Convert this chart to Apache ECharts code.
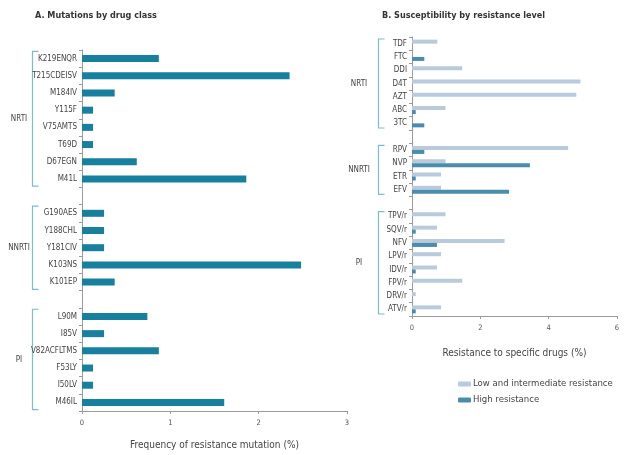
<!DOCTYPE html>
<html><head><meta charset="utf-8">
<script src="https://cdn.jsdelivr.net/npm/echarts@6/dist/echarts.min.js"></script>
<style>html,body{margin:0;padding:0;background:#fff}#c{width:628px;height:455px}</style>
</head><body><div id="c"></div>
<script>
// ---- Data ----
const leftCats = ['K219ENQR','T215CDEISV','M184IV','Y115F','V75AMTS','T69D','D67EGN','M41L',' ','G190AES','Y188CHL','Y181CIV','K103NS','K101EP','  ','L90M','I85V','V82ACFLTMS','F53LY','I50LV','M46IL'];
const leftVals = [0.87,2.35,0.37,0.125,0.125,0.125,0.62,1.86,null,0.25,0.25,0.25,2.48,0.37,null,0.74,0.25,0.87,0.125,0.125,1.61];
const leftGroups = [['NRTI',0,7],['NNRTI',9,13],['PI',15,20]];
const leftTicks = [0,1,2,3];

const rightCats = ['TDF','FTC','DDI','D4T','AZT','ABC','3TC',' ','RPV','NVP','ETR','EFV','  ','TPV/r','SQV/r','NFV','LPV/r','IDV/r','FPV/r','DRV/r','ATV/r'];
const lowVals  = [0.74,0,1.47,4.93,4.81,0.98,0,null,4.57,0.98,0.85,0.85,null,0.98,0.73,2.71,0.85,0.73,1.47,0.11,0.85];
const highVals = [0,0.36,0,0,0,0.11,0.36,null,0.36,3.45,0.11,2.84,null,0,0.11,0.73,0,0.11,0,0,0.11];
const rightGroups = [['NRTI',0,6],['NNRTI',8,11],['PI',13,20]];
const rightTicks = [0,2,4,6];

const FONT = '"DejaVu Sans Condensed","Liberation Sans",sans-serif';
const chart = echarts.init(document.getElementById('c'));
const axisLine = {lineStyle:{color:'#9a9a9a',width:1}};
const option = {
  animation:false,
  textStyle:{fontFamily:FONT},
  title:[
    {text:'A. Mutations by drug class',left:35,top:11,padding:0,textStyle:{fontFamily:FONT,fontSize:9,fontWeight:'bold',color:'#333'}},
    {text:'B. Susceptibility by resistance level',left:382,top:11,padding:0,textStyle:{fontFamily:FONT,fontSize:9,fontWeight:'bold',color:'#333'}}
  ],
  legend:{orient:'vertical',left:453,top:374,itemWidth:13,itemHeight:5,itemGap:6,
    textStyle:{fontFamily:FONT,fontSize:9.5,color:'#444',padding:[0,0,0,-3]},
    data:['Low and intermediate resistance','High resistance']},
  grid:[
    {left:82,top:50,width:265,height:363},
    {left:412,top:37,width:205,height:279}
  ],
  xAxis:[
    {gridIndex:0,type:'value',min:leftTicks[0],max:leftTicks[leftTicks.length-1],interval:1,
     name:'Frequency of resistance mutation (%)',nameLocation:'middle',nameGap:29,
     nameTextStyle:{fontFamily:FONT,fontSize:10,color:'#444'},
     axisLine:{show:true,...axisLine},axisTick:{show:true,length:3,lineStyle:{color:'#9a9a9a'}},
     axisLabel:{fontSize:7.5,color:'#555',margin:8},splitLine:{show:false}},
    {gridIndex:1,type:'value',min:rightTicks[0],max:rightTicks[rightTicks.length-1],interval:2,
     name:'Resistance to specific drugs (%)',nameLocation:'middle',nameGap:32,
     nameTextStyle:{fontFamily:FONT,fontSize:10,color:'#444'},
     axisLine:{show:true,...axisLine},axisTick:{show:true,length:3,lineStyle:{color:'#9a9a9a'}},
     axisLabel:{fontSize:7.5,color:'#555',margin:8},splitLine:{show:false}}
  ],
  yAxis:[
    {gridIndex:0,type:'category',data:leftCats,inverse:true,
     axisLine:axisLine,axisTick:{show:true,length:3,lineStyle:{color:'#9a9a9a'}},
     axisLabel:{fontSize:8,color:'#444',margin:5}},
    {gridIndex:1,type:'category',data:rightCats,inverse:true,
     axisLine:axisLine,axisTick:{show:true,length:3,lineStyle:{color:'#9a9a9a'}},
     axisLabel:{fontSize:8,color:'#444',margin:5}}
  ],
  series:[
    {type:'bar',xAxisIndex:0,yAxisIndex:0,data:leftVals,barWidth:7,itemStyle:{color:'#18809f'}},
    {name:'Low and intermediate resistance',type:'bar',xAxisIndex:1,yAxisIndex:1,data:lowVals,barWidth:4,barGap:'0%',itemStyle:{color:'#b8cadb'}},
    {name:'High resistance',type:'bar',xAxisIndex:1,yAxisIndex:1,data:highVals,barWidth:4,barGap:'0%',itemStyle:{color:'#4a8cab'}}
  ]
};
chart.setOption(option);

function brackets(groups, axisIdx, xLine, xLabel, frac){
  const els = [];
  const p0 = chart.convertToPixel({yAxisIndex:axisIdx}, 0);
  const p1 = chart.convertToPixel({yAxisIndex:axisIdx}, 1);
  const band = p1 - p0;
  groups.forEach(g=>{
    const y1 = chart.convertToPixel({yAxisIndex:axisIdx}, g[1]) - band*frac;
    const y2 = chart.convertToPixel({yAxisIndex:axisIdx}, g[2]) + band*frac;
    els.push({type:'polyline',shape:{points:[[xLine+6,y1],[xLine,y1],[xLine,y2],[xLine+6,y2]]},
      style:{stroke:'#7dbccc',lineWidth:1.2,fill:null}});
    els.push({type:'text',x:xLabel,y:(y1+y2)/2,style:{text:g[0],font:'8px '+FONT,fill:'#444',align:'center',verticalAlign:'middle'}});
  });
  return els;
}
chart.setOption({graphic:[...brackets(leftGroups,0,32.5,19,0.42),...brackets(rightGroups,1,378.5,359,0.35)]});
</script></body></html>
